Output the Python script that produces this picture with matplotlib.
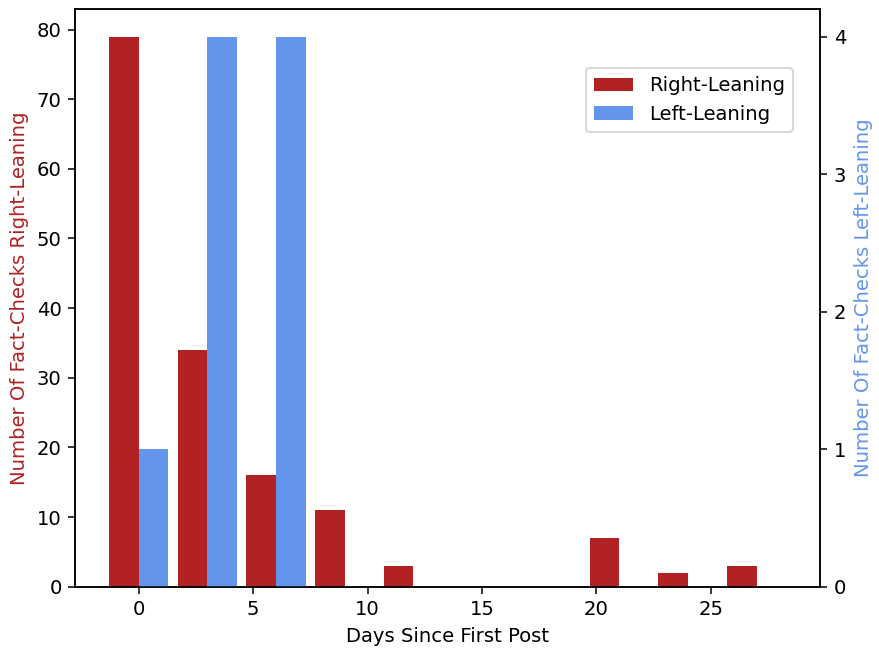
import matplotlib
matplotlib.use("Agg")
import matplotlib.pyplot as plt
from matplotlib.ticker import MaxNLocator
import numpy as np

days = [0, 3, 6, 9, 12, 15, 18, 21, 24, 27]
right_counts = [79, 34, 16, 11, 3, 0, 0, 7, 2, 3]
left_counts = [1, 4, 4, 0, 0, 0, 0, 0, 0, 0]

plt.rcParams['font.size'] = 10.3

bar_w = 1.3
dpi = 137
fig = plt.figure(figsize=(879 / dpi, 654 / dpi), dpi=dpi)
ax1 = fig.add_axes([75 / 879, 1 - 586.7 / 654, (820.3 - 75) / 879, (586.7 - 9) / 654])
ax2 = ax1.twinx()

x = np.array(days, dtype=float)
b1 = ax1.bar(x, right_counts, width=-bar_w, align='edge', color='firebrick', label='Right-Leaning')
b2 = ax2.bar(x, left_counts, width=bar_w, align='edge', color='cornflowerblue', label='Left-Leaning')

ax2.yaxis.set_major_locator(MaxNLocator(integer=True))

ax1.set_xlabel('Days Since First Post')
ax1.set_ylabel('Number Of Fact-Checks Right-Leaning', color='firebrick')
ax2.set_ylabel('Number Of Fact-Checks Left-Leaning', color='cornflowerblue')

ax1.legend([b1, b2], ['Right-Leaning', 'Left-Leaning'], loc='upper right',
           bbox_to_anchor=(0.976, 0.914))

fig.savefig('out.png', dpi=dpi)
